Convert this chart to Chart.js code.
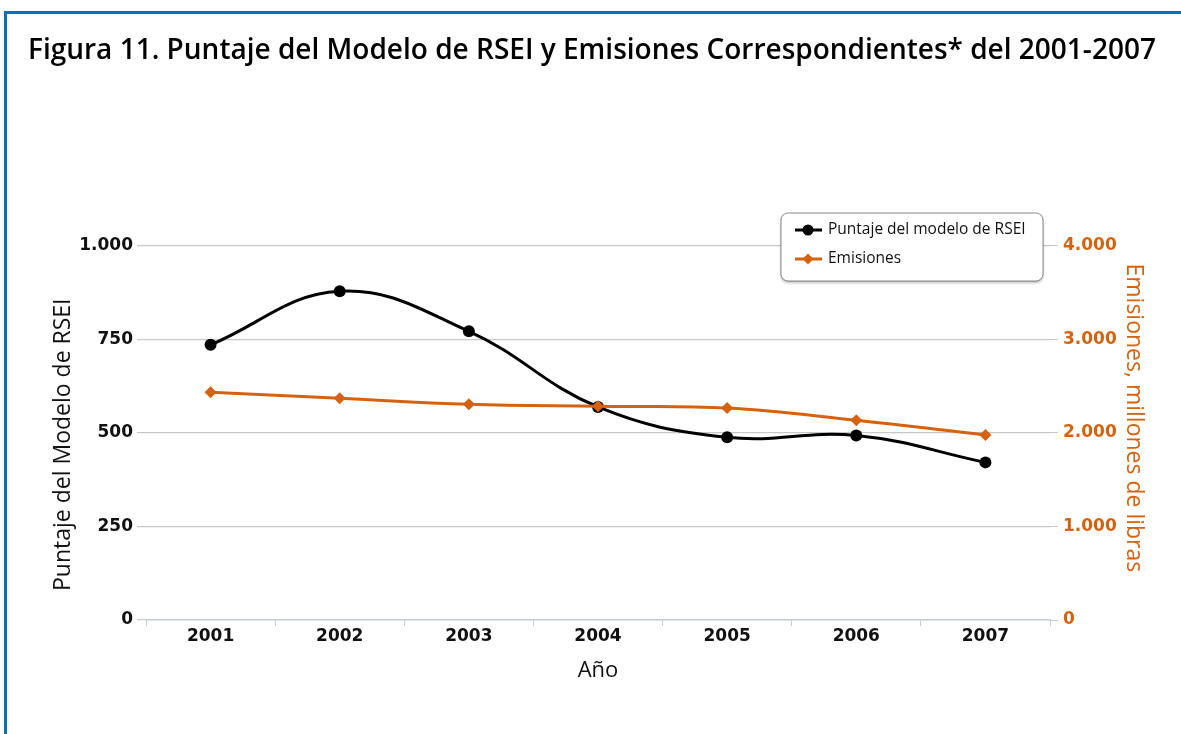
<!DOCTYPE html>
<html>
<head>
<meta charset="utf-8">
<script src="https://cdn.jsdelivr.net/npm/chart.js@4"></script>
<style>
  html, body { margin: 0; padding: 0; background: #fff; overflow: hidden; }
  #marco { position: absolute; left: 4px; top: 11px; width: 1300px; height: 900px;
           border-left: 3px solid #0a71b9; border-top: 3px solid #0a71b9; }
  #grafica { position: absolute; left: 0; top: 0; }
</style>
</head>
<body>
<div id="marco"></div>
<canvas id="grafica" width="1181" height="734"></canvas>
<script>
// Datos
const anios = ['2001', '2002', '2003', '2004', '2005', '2006', '2007'];
const puntajeRSEI = [735, 878, 771, 569, 488, 493, 421];
const emisiones = [2432, 2368, 2304, 2283, 2265, 2133, 1977];
const ticksPuntaje = [0, 250, 500, 750, 1000];
const ticksEmisiones = [0, 1000, 2000, 3000, 4000];

const NARANJA = '#d5620e';
const fuenteTexto = "'Open Sans', 'Noto Sans', sans-serif";
const fuenteTicks = "'DejaVu Sans', Verdana, sans-serif";

// 1000 -> "1.000"
function formatoMiles(v) {
  return String(v).replace(/\B(?=(\d{3})+(?!\d))/g, '.');
}

/*
* Leyenda flotante dentro del area de la grafica (con caja redondeada)
*/
const leyendaFlotante = {
  id: 'leyendaFlotante',
  afterDraw(chart) {
    const ctx = chart.ctx;
    const x = 781, y = 213, w = 262, h = 68, r = 7;
    ctx.save();
    ctx.shadowColor = 'rgba(0,0,0,0.35)';
    ctx.shadowBlur = 3;
    ctx.shadowOffsetY = 1.5;
    ctx.fillStyle = '#fff';
    ctx.beginPath();
    ctx.roundRect(x, y, w, h, r);
    ctx.fill();
    ctx.shadowColor = 'transparent';
    ctx.strokeStyle = '#8a8a8a';
    ctx.lineWidth = 1;
    ctx.stroke();

    const filas = [230, 259];
    chart.data.datasets.forEach(function(ds, i) {
      const yy = filas[i];
      ctx.strokeStyle = ds.borderColor;
      ctx.lineWidth = 3;
      ctx.beginPath();
      ctx.moveTo(795, yy);
      ctx.lineTo(822, yy);
      ctx.stroke();
      ctx.fillStyle = ds.borderColor;
      ctx.beginPath();
      if (ds.pointStyle === 'rectRot') {
        ctx.moveTo(808, yy - 5.5); ctx.lineTo(813.5, yy); ctx.lineTo(808, yy + 5.5); ctx.lineTo(802.5, yy);
        ctx.closePath();
      } else {
        ctx.arc(808, yy, 5.5, 0, Math.PI * 2);
      }
      ctx.fill();
      ctx.fillStyle = '#111';
      ctx.font = '15.5px ' + fuenteTexto;
      ctx.textBaseline = 'middle';
      ctx.textAlign = 'left';
      ctx.fillText(ds.label, 828, yy);
    });
    ctx.restore();
  }
};

new Chart(document.getElementById('grafica'), {
  type: 'line',
  data: {
    labels: anios,
    datasets: [
      {
        label: 'Puntaje del modelo de RSEI',
        data: puntajeRSEI,
        yAxisID: 'y',
        borderColor: '#000',
        backgroundColor: '#000',
        borderWidth: 3,
        pointRadius: 6,
        pointHoverRadius: 6,
        pointBackgroundColor: '#000',
        pointBorderWidth: 0,
        tension: 0.4,
        order: 2
      },
      {
        label: 'Emisiones',
        data: emisiones,
        yAxisID: 'y1',
        borderColor: NARANJA,
        backgroundColor: NARANJA,
        borderWidth: 3,
        pointStyle: 'rectRot',
        pointRadius: 6,
        pointHoverRadius: 6,
        pointBackgroundColor: NARANJA,
        pointBorderWidth: 0,
        tension: 0.4,
        order: 1
      }
    ]
  },
  options: {
    responsive: false,
    animation: false,
    devicePixelRatio: 1,
    layout: { padding: { left: 28, right: 0, top: 0, bottom: 0 } },
    plugins: {
      legend: { display: false },
      tooltip: { enabled: false },
      title: {
        display: true,
        text: 'Figura 11. Puntaje del Modelo de RSEI y Emisiones Correspondientes* del 2001-2007',
        align: 'start',
        color: '#000',
        font: { family: fuenteTexto, size: 28, weight: '600' },
        padding: { top: 34, bottom: 178 }
      }
    },
    scales: {
      x: {
        offset: true,
        grid: { offset: true, drawOnChartArea: false, drawTicks: true, tickLength: 6, color: '#c3d0dc' },
        border: { display: true, color: '#c3d0dc', width: 1.5 },
        ticks: { color: '#111', padding: 0, font: { family: fuenteTicks, size: 17, weight: 'bold' } },
        title: {
          display: true, text: 'Año', color: '#111',
          font: { family: fuenteTexto, size: 22 },
          padding: { top: 0, bottom: 50 }
        },
        afterFit(scale) { scale.height = 114; }
      },
      y: {
        position: 'left',
        min: 0, max: 1000,
        afterBuildTicks(scale) { scale.ticks = ticksPuntaje.map(v => ({ value: v })); },
        grid: { color: '#c8c8c8', lineWidth: 1.2, tickLength: 9 },
        border: { display: false },
        ticks: {
          color: '#111', padding: 4,
          font: { family: fuenteTicks, size: 17, weight: 'bold' },
          callback: v => formatoMiles(v)
        },
        title: {
          display: true, text: 'Puntaje del Modelo de RSEI    ', color: '#111',
          font: { family: fuenteTexto, size: 23 },
          padding: { top: 22, bottom: 0 }
        },
        afterFit(scale) { scale.width = 118; }
      },
      y1: {
        position: 'right',
        min: 0, max: 4000,
        afterBuildTicks(scale) { scale.ticks = ticksEmisiones.map(v => ({ value: v })); },
        grid: { drawOnChartArea: false, drawTicks: true, tickLength: 8, color: '#c8c8c8' },
        border: { display: false },
        ticks: {
          color: NARANJA, padding: 5,
          font: { family: fuenteTicks, size: 17, weight: 'bold' },
          callback: v => formatoMiles(v)
        },
        title: {
          display: true, text: 'Emisiones, millones de libras     ', color: NARANJA,
          font: { family: fuenteTexto, size: 23 },
          padding: { top: 34, bottom: 0 }
        },
        afterFit(scale) { scale.width = 131; }
      }
    }
  },
  plugins: [leyendaFlotante]
});
</script>
</body>
</html>
